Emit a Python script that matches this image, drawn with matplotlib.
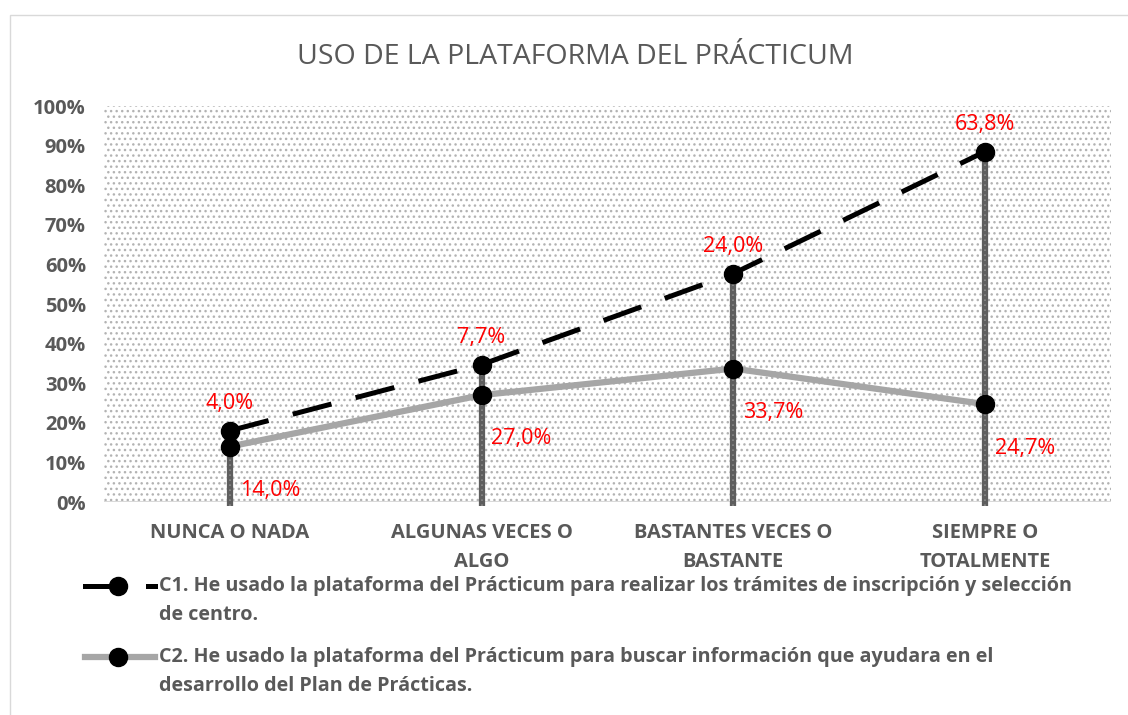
import numpy as np
import matplotlib.pyplot as plt
from matplotlib.patches import Rectangle
from matplotlib.lines import Line2D

categories = ['NUNCA O NADA', 'ALGUNAS VECES O\nALGO', 'BASTANTES VECES O\nBASTANTE', 'SIEMPRE O\nTOTALMENTE']
c1 = [4.0, 7.7, 24.0, 63.8]
c2 = [14.0, 27.0, 33.7, 24.7]
legend_c1 = ['C1. He usado la plataforma del Prácticum para realizar los trámites de inscripción y selección',
             'de centro.']
legend_c2 = ['C2. He usado la plataforma del Prácticum para buscar información que ayudara en el',
             'desarrollo del Plan de Prácticas.']
title = 'USO DE LA PLATAFORMA DEL PRÁCTICUM'

plt.rcParams['font.family'] = ['Open Sans', 'DejaVu Sans']
plt.rcParams['hatch.linewidth'] = 1.0
grey_txt = '#595959'

fig = plt.figure(figsize=(11.28, 7.15), dpi=100)
fig.patches.append(Rectangle((10 / 1128, -0.01), 1.2, 1 - 15 / 715 + 0.01, transform=fig.transFigure,
                             fill=False, edgecolor='#d9d9d9', lw=1))

ax = fig.add_axes([104 / 1128, 213 / 715, 1007 / 1128, 396 / 715])
x = np.arange(len(categories))
ax.set_xlim(-0.5, len(categories) - 0.5)
ax.set_ylim(0, 100)

# dotted plot area fill
ax.add_patch(Rectangle((0, -0.01), 1, 1.01, transform=ax.transAxes, facecolor='white',
                       edgecolor='#b3b3b3', hatch='...', lw=0, zorder=0))
ax.axhline(0, color='#d9d9d9', lw=1.5, zorder=1)

stacked_c2 = np.array(c2)
stacked_c1 = stacked_c2 + np.array(c1)

# drop lines
ax.vlines(x, -1, stacked_c1, color='#5e5e5e', lw=4.5, zorder=2, clip_on=False)
ax.vlines(x, -1, stacked_c1, color='#8a8a8a', lw=1.2, linestyles=(0, (1, 2)), zorder=2, clip_on=False)

ax.plot(x, stacked_c2, color='#a6a6a6', lw=4.5, marker='o', ms=13, mfc='black', mec='black', zorder=3)
ax.plot(x, stacked_c1, color='black', lw=3.6, dashes=(8, 5), marker='o', ms=13, mfc='black',
        mec='black', zorder=4)

for xi, yv, v in zip(x, stacked_c1, c1):
    ax.annotate(f'{v:.1f}%'.replace('.', ','), (xi, yv), xytext=(0, 12), textcoords='offset points',
                ha='center', va='bottom', color='red', fontsize=15.5)
for xi, yv, v in zip(x, stacked_c2, c2):
    ax.annotate(f'{v:.1f}%'.replace('.', ','), (xi, yv), xytext=(7, -24), textcoords='offset points',
                ha='left', va='top', color='red', fontsize=15.5)

for s in ax.spines.values():
    s.set_visible(False)
ax.set_yticks(np.arange(0, 101, 10))
ax.set_yticklabels([f'{v}%' for v in range(0, 101, 10)])
ax.set_xticks(x)
ax.set_xticklabels(categories, linespacing=1.6)
ax.tick_params(length=0, labelsize=14.5, labelcolor=grey_txt)
ax.tick_params(axis='y', pad=13)
ax.tick_params(axis='x', pad=15)
for lbl in ax.get_xticklabels() + ax.get_yticklabels():
    lbl.set_fontweight('bold')

fig.text(575 / 1128, 1 - 57 / 715, title, ha='center', va='center', fontsize=20.5, color=grey_txt)

# legend entries drawn by hand
def legend_entry(y, color, dashed, lines):
    if dashed:
        fig.add_artist(Line2D([85 / 1128, 107 / 1128], [y, y], color=color, lw=3.6, transform=fig.transFigure))
        fig.add_artist(Line2D([148 / 1128, 155 / 1128], [y, y], color=color, lw=3.6, transform=fig.transFigure))
    else:
        fig.add_artist(Line2D([85 / 1128, 155 / 1128], [y, y], color=color, lw=4.5, transform=fig.transFigure))
    fig.add_artist(Line2D([118 / 1128], [y], marker='o', ms=13, color='black', transform=fig.transFigure))
    fig.text(159 / 1128, y, lines[0], ha='left', va='center', fontsize=14.2, fontweight='bold', color=grey_txt)
    fig.text(159 / 1128, y - 29 / 715, lines[1], ha='left', va='center', fontsize=14.2, fontweight='bold',
             color=grey_txt)

legend_entry(1 - 586 / 715, 'black', True, legend_c1)
legend_entry(1 - 657 / 715, '#a6a6a6', False, legend_c2)

fig.savefig('out.png', dpi=100)
